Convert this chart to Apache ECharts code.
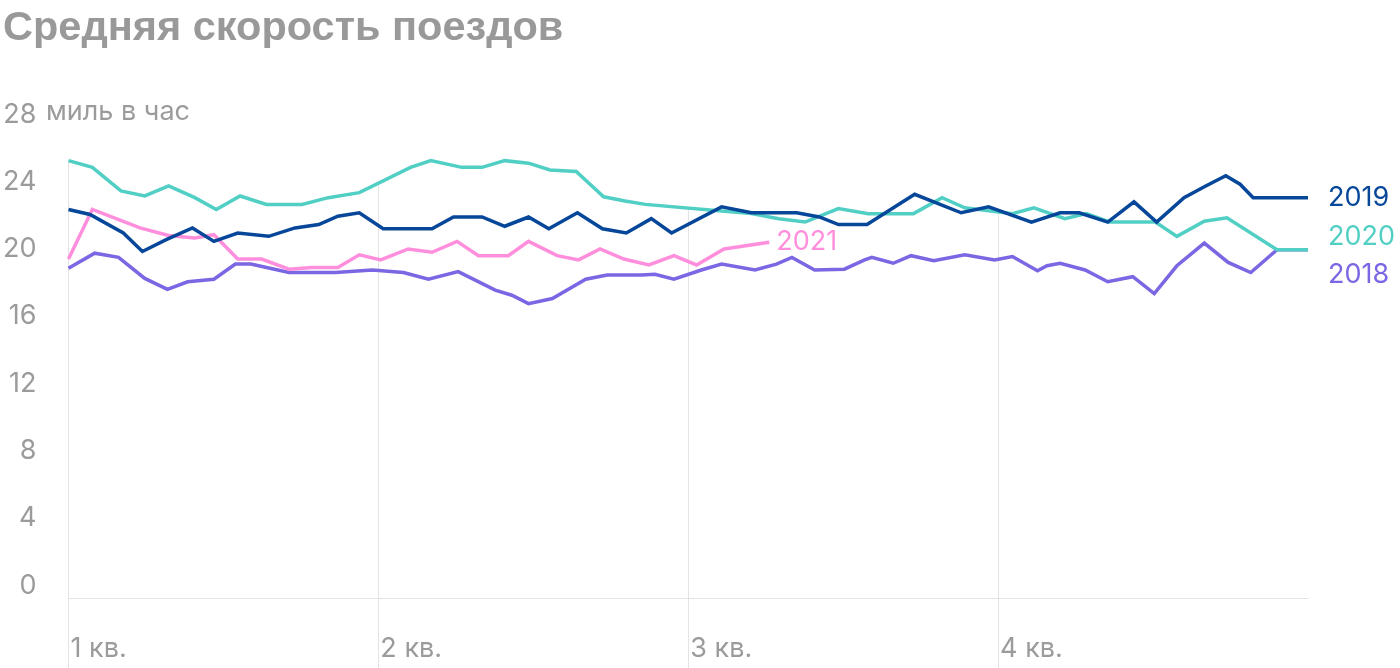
<!DOCTYPE html>
<html>
<head>
<meta charset="utf-8">
<script src="https://cdn.jsdelivr.net/npm/echarts@6/dist/echarts.min.js"></script>
<style>
  html, body { margin: 0; padding: 0; background: #fff; }
  #chart { width: 1400px; height: 668px; }
</style>
</head>
<body>
<div id="chart"></div>
<script>
// неделя года, миль в час
const quarters = [0, 13, 26, 39];
const quarterLabels = ["1 кв.", "2 кв.", "3 кв.", "4 кв."];

const s2019 = [
  [0, 23.1], [0.9, 22.8], [2.3, 21.7], [3.1, 20.6], [4.1, 21.3], [5.2, 22.0], [6.1, 21.2],
  [7.1, 21.7], [8.4, 21.5], [9.5, 22.0], [10.5, 22.2], [11.3, 22.7], [12.2, 22.9], [13.2, 21.95],
  [15.25, 21.95], [16.15, 22.65], [17.35, 22.65], [18.3, 22.1], [19.3, 22.65], [20.15, 21.95],
  [21.35, 22.9], [22.4, 21.95], [23.4, 21.7], [24.45, 22.55], [25.3, 21.7], [27.4, 23.25],
  [28.65, 22.9], [30.55, 22.9], [31.5, 22.65], [32.3, 22.2], [33.5, 22.2], [35.5, 24.0],
  [37.45, 22.9], [38.6, 23.25], [40.4, 22.35], [41.6, 22.9], [42.4, 22.9], [43.6, 22.35],
  [44.7, 23.55], [45.65, 22.35], [46.8, 23.8], [47.65, 24.45], [48.55, 25.1], [49.15, 24.6],
  [49.7, 23.8], [52, 23.8]
];

const s2020 = [
  [0, 26.0], [1.0, 25.6], [2.2, 24.2], [3.2, 23.9], [4.2, 24.5], [5.3, 23.8], [6.2, 23.1],
  [7.2, 23.9], [8.3, 23.4], [9.8, 23.4], [10.9, 23.8], [12.2, 24.1], [14.35, 25.6], [15.2, 26.0],
  [16.5, 25.6], [17.35, 25.6], [18.3, 26.0], [19.3, 25.85], [20.2, 25.45], [21.3, 25.35],
  [22.45, 23.85], [23.35, 23.6], [24.2, 23.4], [27.4, 23.0], [28.65, 22.85], [29.8, 22.55],
  [30.9, 22.35], [32.3, 23.15], [33.55, 22.85], [35.45, 22.85], [36.65, 23.8], [37.6, 23.2],
  [39.6, 22.85], [40.5, 23.2], [41.8, 22.55], [42.7, 22.85], [43.7, 22.35], [45.6, 22.35],
  [46.5, 21.5], [47.65, 22.4], [48.6, 22.6], [50.7, 20.7], [52, 20.7]
];

const s2021 = [
  [0, 20.15], [1.0, 23.1], [3.0, 22.0], [4.2, 21.55], [5.3, 21.4], [6.1, 21.6], [7.1, 20.15],
  [8.1, 20.15], [9.25, 19.55], [10.2, 19.65], [11.3, 19.65], [12.2, 20.4], [13.1, 20.1],
  [14.25, 20.75], [15.25, 20.55], [16.3, 21.2], [17.2, 20.35], [18.45, 20.35], [19.3, 21.2],
  [20.5, 20.35], [21.4, 20.1], [22.3, 20.75], [23.3, 20.15], [24.35, 19.8], [25.4, 20.35],
  [26.35, 19.8], [27.5, 20.75], [29.4, 21.15]
];

const s2018 = [
  [0, 19.6], [1.1, 20.5], [2.1, 20.25], [3.2, 19.0], [4.15, 18.35], [5.0, 18.8], [6.1, 18.95],
  [7.0, 19.85], [7.65, 19.85], [9.25, 19.35], [11.2, 19.35], [12.75, 19.5], [14.05, 19.35],
  [15.1, 18.95], [16.35, 19.4], [17.9, 18.3], [18.6, 18.0], [19.3, 17.5], [20.3, 17.8],
  [21.7, 18.95], [22.6, 19.2], [24.05, 19.2], [24.6, 19.25], [25.4, 18.95], [26.55, 19.5],
  [27.4, 19.85], [28.8, 19.5], [29.7, 19.85], [30.35, 20.25], [31.3, 19.5], [32.55, 19.55],
  [33.4, 20.1], [33.7, 20.25], [34.6, 19.9], [35.35, 20.35], [36.3, 20.05], [37.6, 20.4],
  [38.85, 20.1], [39.6, 20.3], [40.65, 19.45], [41.05, 19.75], [41.6, 19.9], [42.65, 19.5],
  [43.6, 18.8], [44.65, 19.1], [45.55, 18.1], [46.5, 19.75], [47.65, 21.1], [48.65, 19.95],
  [49.6, 19.35], [50.7, 20.7], [52, 20.7]
];

const FONT = "Inter";
const FS = 27;
const GRAY = "#9b9b9b";
const GRID_COLOR = "#e3e3e3";

// значение линии в точке x (линейно между вершинами)
function valueAt(data, x) {
  for (let i = 1; i < data.length; i++) {
    const a = data[i - 1], b = data[i];
    if (x >= a[0] && x <= b[0]) {
      return a[1] + (b[1] - a[1]) * (x - a[0]) / (b[0] - a[0]);
    }
  }
  return null;
}
// вертикальные линии кварталов доходят только до верхней линии
const gridTops = quarters.map(q => {
  const vals = [s2018, s2019, s2020, s2021].map(d => valueAt(d, q)).filter(v => v !== null);
  return [q, Math.max.apply(null, vals)];
});

function lineSeries(name, data, color, offset) {
  return {
    name: name,
    type: "line",
    data: data,
    symbol: "none",
    z: 3,
    lineStyle: { color: color, width: 3.5, join: "miter" },
    endLabel: {
      show: true,
      formatter: name,
      color: color,
      fontFamily: FONT,
      fontSize: FS,
      distance: 5,
      offset: offset
    }
  };
}

const chart = echarts.init(document.getElementById("chart"));
chart.setOption({
  animation: false,
  title: {
    text: "Средняя скорость поездов",
    left: -2,
    top: 3,
    textStyle: { fontFamily: "Liberation Sans", fontWeight: "bold", fontSize: 41.5, color: "#999999" }
  },
  grid: { left: 66, right: 92, top: 127, bottom: 70 },
  xAxis: {
    type: "value",
    min: 0,
    max: 52,
    interval: 13,
    axisLine: { show: true, lineStyle: { color: GRID_COLOR, width: 1 } },
    axisTick: { show: false },
    splitLine: { show: false },
    axisLabel: {
      showMaxLabel: false,
      align: "left",
      verticalAlign: "top",
      margin: 37,
      padding: [0, 0, 0, 2],
      color: GRAY,
      fontFamily: FONT,
      fontSize: FS,
      formatter: v => quarterLabels[v / 13] || ""
    }
  },
  yAxis: {
    type: "value",
    min: 0,
    max: 28,
    interval: 4,
    axisLine: { show: false },
    axisTick: { show: false },
    splitLine: { show: false },
    axisLabel: {
      margin: 32,
      verticalAlign: "bottom",
      padding: [0, 0, -1, 0],
      color: GRAY,
      fontFamily: FONT,
      fontSize: FS
    }
  },
  graphic: [{
    type: "text",
    left: 46,
    top: 98,
    style: { text: "миль в час", fill: GRAY, font: FS + "px " + FONT }
  }],
  series: [
    {
      type: "custom",
      z: 1,
      clip: false,
      silent: true,
      data: gridTops,
      renderItem: function (params, api) {
        const p0 = api.coord([api.value(0), 0]);
        const p1 = api.coord([api.value(0), api.value(1)]);
        const x = Math.round(p0[0]) + 0.5;
        return {
          type: "line",
          shape: { x1: x, y1: p0[1] + 72, x2: x, y2: p1[1] },
          style: { stroke: GRID_COLOR, lineWidth: 1 }
        };
      }
    },
    lineSeries("2018", s2018, "#7b66e3", [15, 25]),
    lineSeries("2021", s2021, "#ff8fdc", [2, 0]),
    lineSeries("2020", s2020, "#52cfc4", [15, -13]),
    lineSeries("2019", s2019, "#07479a", [15, 0])
  ]
});
</script>
</body>
</html>
